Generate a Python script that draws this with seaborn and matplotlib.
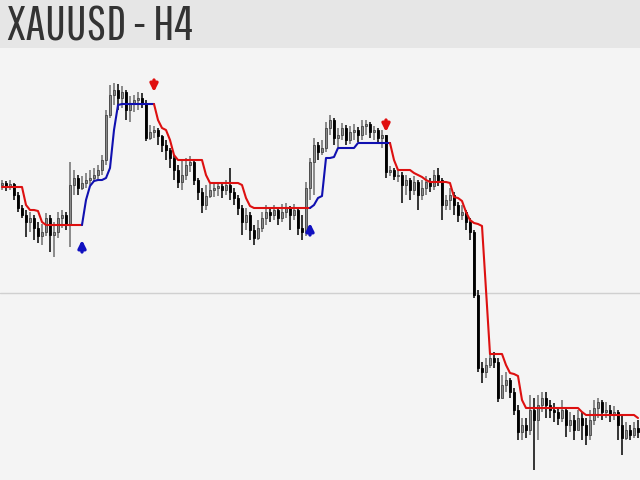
import numpy as np
import pandas as pd
import matplotlib
matplotlib.use('Agg')
import matplotlib.pyplot as plt
import seaborn as sns

# XAUUSD H4 bars (price units are arbitrary chart units)
first_open = 295
close = [297, 294, 296, 285, 272, 265, 258, 262, 252, 244,
         248, 262, 245, 248, 262, 265, 255, 295, 302, 292,
         297, 300, 302, 305, 310, 320, 365, 385, 390, 382,
         388, 370, 376, 380, 382, 377, 342, 348, 350, 344,
         335, 330, 322, 310, 298, 305, 315, 318, 300, 288,
         275, 284, 290, 292, 294, 290, 295, 288, 282, 272,
         258, 265, 250, 242, 252, 262, 268, 265, 270, 262,
         268, 272, 265, 270, 252, 248, 292, 318, 335, 328,
         332, 352, 360, 342, 345, 352, 340, 348, 350, 345,
         354, 356, 348, 350, 342, 345, 308, 310, 304, 305,
         295, 300, 290, 298, 285, 292, 298, 294, 305, 300,
         275, 280, 285, 275, 265, 268, 258, 248, 185, 112,
         108, 115, 122, 118, 82, 95, 100, 88, 70, 48,
         55, 50, 70, 60, 75, 82, 75, 70, 68, 62,
         70, 55, 60, 50, 62, 55, 45, 60, 72, 78,
         68, 70, 65, 68, 55, 42, 50, 45, 52, 48]
high = [300, 299, 300, 297, 288, 275, 270, 268, 265, 258,
        256, 267, 265, 258, 268, 270, 268, 318, 310, 305,
        304, 307, 310, 312, 315, 325, 370, 395, 397, 396,
        394, 390, 384, 385, 388, 387, 380, 355, 354, 352,
        345, 340, 332, 325, 315, 320, 322, 324, 320, 302,
        292, 295, 296, 298, 298, 297, 300, 312, 292, 285,
        275, 272, 268, 255, 260, 268, 275, 273, 275, 272,
        276, 277, 274, 276, 272, 265, 298, 322, 342, 338,
        340, 358, 365, 362, 352, 357, 355, 354, 356, 353,
        360, 360, 358, 354, 352, 350, 345, 314, 312, 310,
        308, 305, 302, 304, 300, 300, 304, 302, 310, 312,
        302, 285, 292, 288, 278, 275, 270, 262, 250, 190,
        118, 122, 128, 128, 122, 105, 108, 102, 92, 75,
        62, 62, 85, 82, 85, 88, 88, 80, 77, 72,
        80, 72, 68, 65, 70, 68, 62, 70, 80, 82,
        80, 78, 75, 74, 70, 65, 58, 55, 58, 60]
low = [290, 289, 290, 280, 268, 262, 243, 248, 240, 237,
       235, 244, 228, 223, 242, 252, 250, 233, 285, 285,
       290, 292, 295, 298, 300, 305, 315, 362, 375, 370,
       372, 360, 358, 368, 370, 372, 339, 340, 342, 335,
       328, 320, 312, 300, 292, 290, 300, 308, 295, 280,
       267, 270, 282, 283, 284, 282, 285, 280, 275, 265,
       245, 250, 240, 235, 240, 248, 255, 258, 260, 255,
       258, 262, 250, 260, 245, 240, 244, 280, 285, 320,
       325, 328, 345, 335, 333, 340, 335, 336, 340, 338,
       340, 345, 342, 340, 337, 332, 302, 304, 300, 298,
       277, 285, 280, 285, 270, 280, 285, 288, 290, 294,
       260, 270, 270, 265, 258, 260, 250, 240, 182, 108,
       97, 102, 112, 112, 78, 85, 88, 82, 65, 40,
       40, 42, 45, 10, 40, 68, 62, 62, 58, 55,
       58, 43, 48, 40, 52, 40, 35, 40, 55, 62,
       60, 62, 58, 60, 40, 25, 40, 40, 42, 42]

# trailing stop line and its trend segments (start, end index, colour)
trail = [293, 293, 293, 293, 293, 293, 275, 270, 270, 269,
         258, 255, 255, 255, 255, 255, 255, 255, 255, 255,
         255, 280, 294, 299, 300, 300, 302, 312, 350, 375,
         376, 376, 376, 376, 376, 376, 376, 376, 376, 360,
         352, 350, 340, 325, 320, 320, 320, 320, 320, 320,
         320, 305, 297, 297, 297, 297, 297, 297, 297, 297,
         295, 282, 274, 272, 272, 272, 272, 272, 272, 272,
         272, 272, 272, 272, 272, 272, 272, 272, 275, 282,
         284, 322, 322, 323, 332, 332, 332, 332, 332, 337,
         337, 337, 337, 337, 337, 337, 337, 337, 320, 310,
         310, 310, 310, 307, 305, 303, 300, 298, 298, 298,
         298, 298, 297, 283, 282, 279, 268, 260, 257, 256,
         254, 190, 126, 126, 126, 126, 115, 107, 106, 104,
         80, 72, 72, 72, 72, 72, 72, 72, 72, 72,
         72, 72, 72, 72, 72, 68, 65, 65, 65, 65,
         65, 65, 65, 65, 65, 65, 65, 65, 65, 62]
seg_start = [0, 20, 38, 77, 97]
seg_end = [20, 38, 77, 97, 159]
seg_trend = ['down', 'up', 'down', 'up', 'down']

# signal arrows
sig_idx = [20, 38, 77, 96]
sig_price = [234, 394, 251, 354]
sig_dir = ['up', 'down', 'up', 'down']

level = 187

sns.set_theme(style='white')
plt.rcParams['font.family'] = ['Pathway Gothic One', 'DejaVu Sans']

fig = plt.figure(figsize=(6.4, 4.8), dpi=100)
fig.patch.set_facecolor('#f4f4f4')

# header band
hdr = fig.add_axes([0, 0.9, 1, 0.1])
hdr.set_facecolor('#e6e6e6')
hdr.set_xticks([])
hdr.set_yticks([])
for s in hdr.spines.values():
    s.set_visible(False)
hdr.text(0.011, 0.44, 'XAUUSD - H4', fontsize=35.5, color='#333333',
         va='center', ha='left', transform=hdr.transAxes)

ax = fig.add_axes([0, 0, 1, 0.9])
ax.set_facecolor('#f4f4f4')

n = len(close)
idx = np.arange(n)
opens = np.array([first_open] + close[:-1])
closes = np.array(close)
highs = np.maximum(np.array(high), np.maximum(opens, closes))
lows = np.minimum(np.array(low), np.minimum(opens, closes))
bull = closes >= opens

ax.axhline(level, color='#d0d0d0', lw=1, zorder=0)

# candles
wick_col = np.where(bull, '#6e6e6e', '#000000')
ax.vlines(idx, lows, highs, colors=wick_col, lw=1.1, zorder=2)
body_h = np.abs(closes - opens)
body_h = np.where(body_h < 1.5, 1.5, body_h)
ax.bar(idx, body_h, bottom=np.minimum(opens, closes), width=0.7,
       color=np.where(bull, '#8a8a8a', '#000000'),
       edgecolor=np.where(bull, '#444444', '#000000'), linewidth=0.6, zorder=3)

# trailing line, coloured by trend
rows = []
for k, (a, b) in enumerate(zip(seg_start, seg_end)):
    for i in range(a, b + 1):
        rows.append({'idx': i, 'trail': trail[i], 'seg': f's{k}'})
df = pd.DataFrame(rows)
pal = {f's{k}': ('#dd1010' if t == 'down' else '#1010b0') for k, t in enumerate(seg_trend)}
sns.lineplot(data=df, x='idx', y='trail', hue='seg', palette=pal, lw=1.5,
             legend=False, ax=ax, zorder=4, estimator=None, sort=False)

# arrows
for i, p, d in zip(sig_idx, sig_price, sig_dir):
    if d == 'up':
        ax.annotate('', xy=(i, p + 6), xytext=(i, p - 6),
                    arrowprops=dict(arrowstyle='-|>', color='#1010c0', lw=2.4,
                                    mutation_scale=11, shrinkA=0, shrinkB=0))
    else:
        ax.annotate('', xy=(i, p - 6), xytext=(i, p + 6),
                    arrowprops=dict(arrowstyle='-|>', color='#e01010', lw=2.4,
                                    mutation_scale=11, shrinkA=0, shrinkB=0))

ax.set_xlim(-0.5, n - 0.5)
ax.set_ylim(0, 432)
ax.set_xticks([])
ax.set_yticks([])
ax.set_xlabel('')
ax.set_ylabel('')
for s in ax.spines.values():
    s.set_visible(False)

fig.savefig('out.png', dpi=100, facecolor=fig.get_facecolor())
